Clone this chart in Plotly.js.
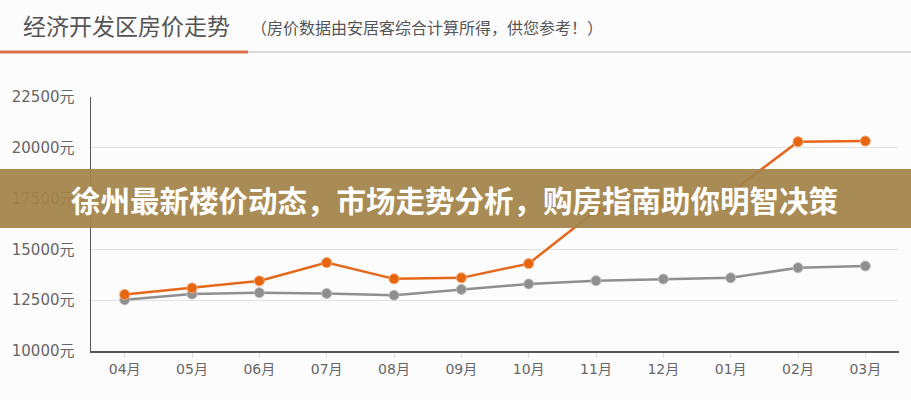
<!DOCTYPE html>
<html><head><meta charset="utf-8">
<script src="https://cdn.plot.ly/plotly-3.0.1.min.js"></script>
<style>html,body{margin:0;padding:0;background:#fff;}#chart{width:911px;height:400px;}</style>
</head><body><div id="chart"></div>
<script>
const months = ["04月","05月","06月","07月","08月","09月","10月","11月","12月","01月","02月","03月"];
const orangeSeries = [12780, 13100, 13450, 14350, 13550, 13600, 14300, 16900, 17350, 17800, 20300, 20330];
const graySeries = [12520, 12800, 12870, 12830, 12740, 13030, 13300, 13460, 13540, 13600, 14100, 14180];
const yTickVals = [10000, 12500, 15000, 17500, 20000, 22500];
const yTickText = yTickVals.map(v => v + "元");
const chartTitle = "经济开发区房价走势";
const chartSubtitle = "（房价数据由安居客综合计算所得，供您参考！）";
const bannerText = "徐州最新楼价动态，市场走势分析，购房指南助你明智决策";

const L = 91, R = 899, T = 97, B = 351;
const W = R - L, H = B - T;
const px = x => (x - L) / W;
const py = y => (B - y) / H;
const FONT = "Noto Sans CJK SC, Noto Sans, sans-serif";
const TICKFONT = "DejaVu Sans, Noto Sans CJK SC, sans-serif";

const traces = [
  {x: months, y: graySeries, type: "scatter", mode: "lines+markers",
   line: {color: "#8f8f8f", width: 2.5},
   marker: {color: "#8f8f8f", size: 10, line: {color: "#bdbdbd", width: 1}}, hoverinfo: "skip"},
  {x: months, y: orangeSeries, type: "scatter", mode: "lines+markers",
   line: {color: "#e4671a", width: 2.5},
   marker: {color: "#e8650f", size: 10, line: {color: "#f3a56e", width: 1}}, hoverinfo: "skip"}
];

const layout = {
  width: 911, height: 400,
  margin: {l: L, r: 911 - R, t: T, b: 400 - B, pad: 0},
  paper_bgcolor: "#fdfcfd", plot_bgcolor: "#fdfcfd",
  showlegend: false,
  font: {family: FONT, color: "#555"},
  xaxis: {type: "category", range: [-0.5, 11.5], showgrid: false, zeroline: false,
    showline: true, linecolor: "#555", linewidth: 1.5,
    ticks: "outside", ticklen: 5, tickcolor: "#ddd",
    tickfont: {family: TICKFONT, size: 14, color: "#666"}, fixedrange: true},
  yaxis: {range: [10000, 22500], tickvals: yTickVals, ticktext: yTickText,
    showgrid: true, gridcolor: "#e3e3e3", gridwidth: 1, zeroline: false,
    showline: true, linecolor: "#555", linewidth: 1.5, ticks: "", ticklabelstandoff: 12,
    tickfont: {family: TICKFONT, size: 15, color: "#666"}, fixedrange: true},
  shapes: [
    {type: "line", xref: "paper", yref: "paper", x0: px(0), x1: px(911), y0: py(52), y1: py(52),
     line: {color: "#cfcfcf", width: 1.5}},
    {type: "line", xref: "paper", yref: "paper", x0: px(0), x1: px(248), y0: py(52), y1: py(52),
     line: {color: "#d9704a", width: 3}},
    {type: "rect", xref: "paper", yref: "paper", x0: px(0), x1: px(911), y0: py(228), y1: py(169),
     fillcolor: "rgba(163,131,72,0.93)", line: {width: 0}, layer: "above"}
  ],
  annotations: [
    {text: chartTitle, xref: "paper", yref: "paper", x: px(21), y: py(25), xanchor: "left", yanchor: "middle",
     showarrow: false, font: {family: FONT, size: 23, color: "#555"}},
    {text: chartSubtitle, xref: "paper", yref: "paper", x: px(249), y: py(27), xanchor: "left", yanchor: "middle",
     showarrow: false, font: {family: FONT, size: 16, color: "#555"}},
    {text: "<b>" + bannerText + "</b>", xref: "paper", yref: "paper", x: px(454), y: py(199), xanchor: "center", yanchor: "middle",
     showarrow: false, font: {family: FONT, size: 29.5, color: "#ffffff"}}
  ]
};

Plotly.newPlot("chart", traces, layout, {displayModeBar: false, staticPlot: true});
</script></body></html>
